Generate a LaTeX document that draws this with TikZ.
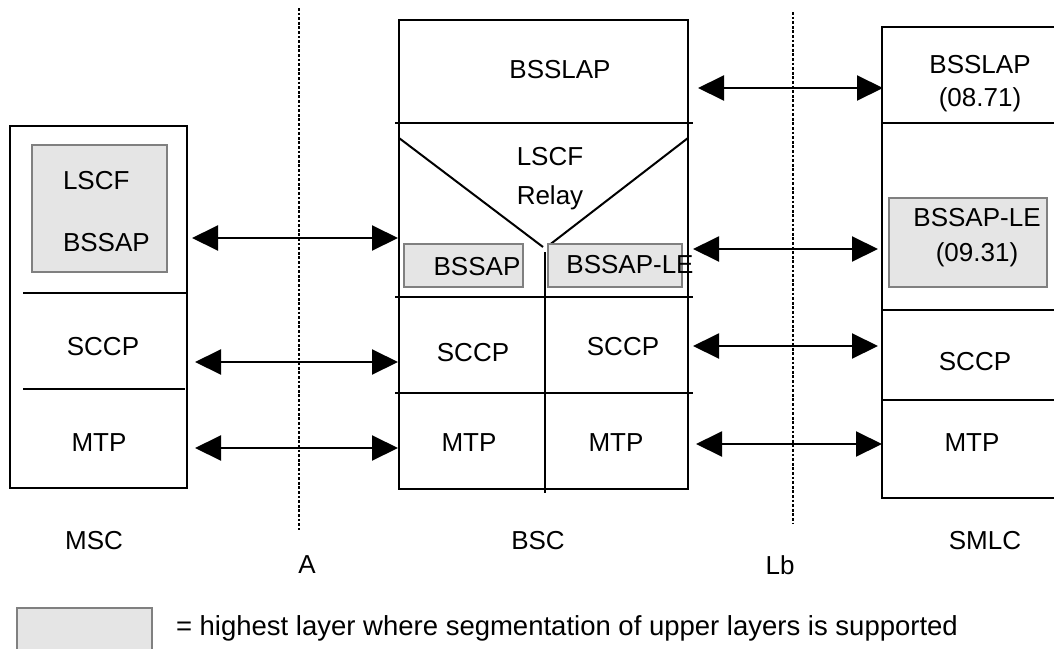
\documentclass[tikz,border=0pt]{standalone}
\usepackage{fontspec}
\setmainfont{Liberation Sans}
\usetikzlibrary{positioning, arrows.meta}

\begin{document}
\begin{tikzpicture}[x=1pt, y=-1pt, line width=2pt,
    >={Triangle[length=26pt, width=25pt]},
    lbl/.style={font=\fontsize{26}{31}\selectfont, inner sep=0pt},
    seg/.style={draw=gray, fill=gray!20, line width=1.2pt},
    iface/.style={line width=2.8pt, dash pattern=on 2.8pt off 1.8pt}]
    \useasboundingbox (0,0) rectangle (1054,648);

    % MSC stack
    \draw (10,126) rectangle (187,488);
    \draw (23,293) -- (187,293);
    \draw (23,389) -- (185,389);
    \draw [seg] (32,145) rectangle (167,272);
    \node [lbl, anchor=west] (msclscf) at (62,181) {LSCF};
    \node [lbl, anchor=west] (mscbssap) at (62,243) {BSSAP};
    \node [lbl] (mscsccp) at (103,347) {SCCP};
    \node [lbl] (mscmtp) at (99,443) {MTP};
    \node [lbl] (msc) at (94,541) {MSC};

    % BSC stack
    \draw (399,20) rectangle (688,489);
    \draw (395,123) -- (693,123);
    \draw (395,297) -- (693,297);
    \draw (395,393) -- (693,393);
    \draw (399,138) -- (543,247);
    \draw (548,246) -- (688,138);
    \draw (545,252) -- (545,493);
    \draw [seg] (404,244) rectangle (523,287);
    \draw [seg] (548,244) rectangle (682,287);
    \node [lbl] (bscbsslap) at (560,70) {BSSLAP};
    \node [lbl] (bsclscf) at (550,157) {LSCF};
    \node [lbl, below=17pt of bsclscf] (bscrelay) {Relay};
    \node [lbl] (bscbssap) at (477,267) {BSSAP};
    \node [lbl] (bscbssaple) at (630,265) {BSSAP-LE};
    \node [lbl] (bscsccpa) at (473,353) {SCCP};
    \node [lbl] (bscsccpb) at (623,347) {SCCP};
    \node [lbl] (bscmtpa) at (469,443) {MTP};
    \node [lbl] (bscmtpb) at (616,443) {MTP};
    \node [lbl] (bsc) at (538,541) {BSC};

    % SMLC stack
    \draw (882,27) rectangle (1060,498);
    \draw (882,123) -- (1054,123);
    \draw (882,310) -- (1054,310);
    \draw (882,400) -- (1054,400);
    \draw [seg] (889,198) rectangle (1047,287);
    \node [lbl] (smlcbsslap) at (980,65) {BSSLAP};
    \node [lbl] (smlcbsslapno) at (980,100) {(08.71)};
    \node [lbl] (smlcbssaple) at (977,218) {BSSAP-LE};
    \node [lbl] (smlcbssapleno) at (977,255) {(09.31)};
    \node [lbl] (smlcsccp) at (975,362) {SCCP};
    \node [lbl] (smlcmtp) at (972,443) {MTP};
    \node [lbl] (smlc) at (985,541) {SMLC};

    % interfaces
    \coordinate (atop) at (299,8);
    \coordinate (abot) at (299,530);
    \coordinate (lbtop) at (793,12);
    \coordinate (lbbot) at (793,523);
    \draw [iface] (atop) -- (abot);
    \draw [iface] (lbtop) -- (lbbot);
    \node [lbl] (a) at (307,565) {A};
    \node [lbl] (lb) at (780,565) {Lb};

    % peer arrows over A
    \coordinate (a1l) at (192,238);
    \coordinate (a1r) at (398,238);
    \coordinate (a2l) at (195,362);
    \coordinate (a2r) at (398,362);
    \coordinate (a3l) at (195,448);
    \coordinate (a3r) at (398,448);
    \draw [<->] (a1l) -- (a1r);
    \draw [<->] (a2l) -- (a2r);
    \draw [<->] (a3l) -- (a3r);

    % peer arrows over Lb
    \coordinate (b1l) at (698,88);
    \coordinate (b1r) at (883,88);
    \coordinate (b2l) at (693,249);
    \coordinate (b2r) at (878,249);
    \coordinate (b3l) at (693,346);
    \coordinate (b3r) at (878,346);
    \coordinate (b4l) at (696,444);
    \coordinate (b4r) at (882,444);
    \draw [<->] (b1l) -- (b1r);
    \draw [<->] (b2l) -- (b2r);
    \draw [<->] (b3l) -- (b3r);
    \draw [<->] (b4l) -- (b4r);

    % legend
    \draw [seg] (17,608) rectangle (152,652);
    \node [lbl, anchor=west, font=\fontsize{27.5}{33}\selectfont] (legend) at (175,628)
        {= highest layer where segmentation of upper layers is supported};
\end{tikzpicture}
\end{document}
